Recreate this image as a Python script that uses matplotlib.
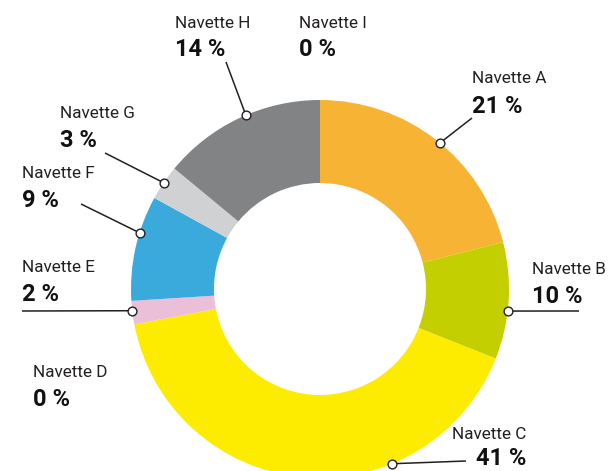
import numpy as np
import matplotlib
matplotlib.use('Agg')
import matplotlib.pyplot as plt

W, H = 611, 471

# data
navettes = ['Navette A', 'Navette B', 'Navette C', 'Navette D', 'Navette E',
            'Navette F', 'Navette G', 'Navette H', 'Navette I']
shares = [21, 10, 41, 0, 2, 9, 3, 14, 0]
colors = ['#F7B334', '#C3CF00', '#FDEB00', '#E4E4E4', '#EBBFD8',
          '#3AA9DB', '#D0D1D3', '#828385', '#BBBBBB']

# label layout in pixels (top-left origin): name xy, pct xy, leader end, anchor angle
name_pos = [(472, 83), (532, 274), (452, 439), (33, 377), (22, 272),
            (22, 178), (60, 118), (175, 28), (299, 28)]
pct_pos = [(472, 113), (532, 303), (476, 465), (33, 406), (22, 301),
           (22, 207), (60, 147), (175, 56), (299, 56)]
leader_end = [(472, 118), (579, 311), (466, 461), None, (22, 311),
              (81, 204), (105, 153), (226, 62), None]
anchor_deg = [39.4, 96.7, 157.6, None, 263.4, 287.3, 304.2, 336.9, None]

cx, cy = 320, 289
r_out, r_in = 189, 106

def py(y):
    return H - y

fig = plt.figure(figsize=(W / 100, H / 100), dpi=100)
ax = fig.add_axes([0, 0, 1, 1])
ax.pie(shares, colors=colors, startangle=90, counterclock=False,
       radius=r_out, center=(cx, py(cy)),
       wedgeprops=dict(width=r_out - r_in, linewidth=0))
ax.set_xlim(0, W)
ax.set_ylim(0, H)
ax.set_aspect('equal')
ax.axis('off')

for i, name in enumerate(navettes):
    nx, ny = name_pos[i]
    ax.text(nx, py(ny), name, fontsize=12.3, family='Roboto', color='#231F20',
            ha='left', va='baseline')
    px, pyy = pct_pos[i]
    ax.text(px, py(pyy), f'{shares[i]} %', fontsize=17, family='Roboto',
            fontweight='bold', color='#111111', ha='left', va='baseline')
    if anchor_deg[i] is not None:
        a = np.radians(anchor_deg[i])
        dx = cx + r_out * np.sin(a)
        dy = py(cy) + r_out * np.cos(a)
        ex, ey = leader_end[i]
        ax.plot([dx, ex], [dy, py(ey)], color='#231F20', lw=1.1, zorder=3,
                solid_capstyle='butt')
        ax.plot(dx, dy, marker='o', markersize=6.3, markerfacecolor='white',
                markeredgecolor='#231F20', markeredgewidth=1.0, zorder=4)

fig.savefig('out.png', dpi=100)
